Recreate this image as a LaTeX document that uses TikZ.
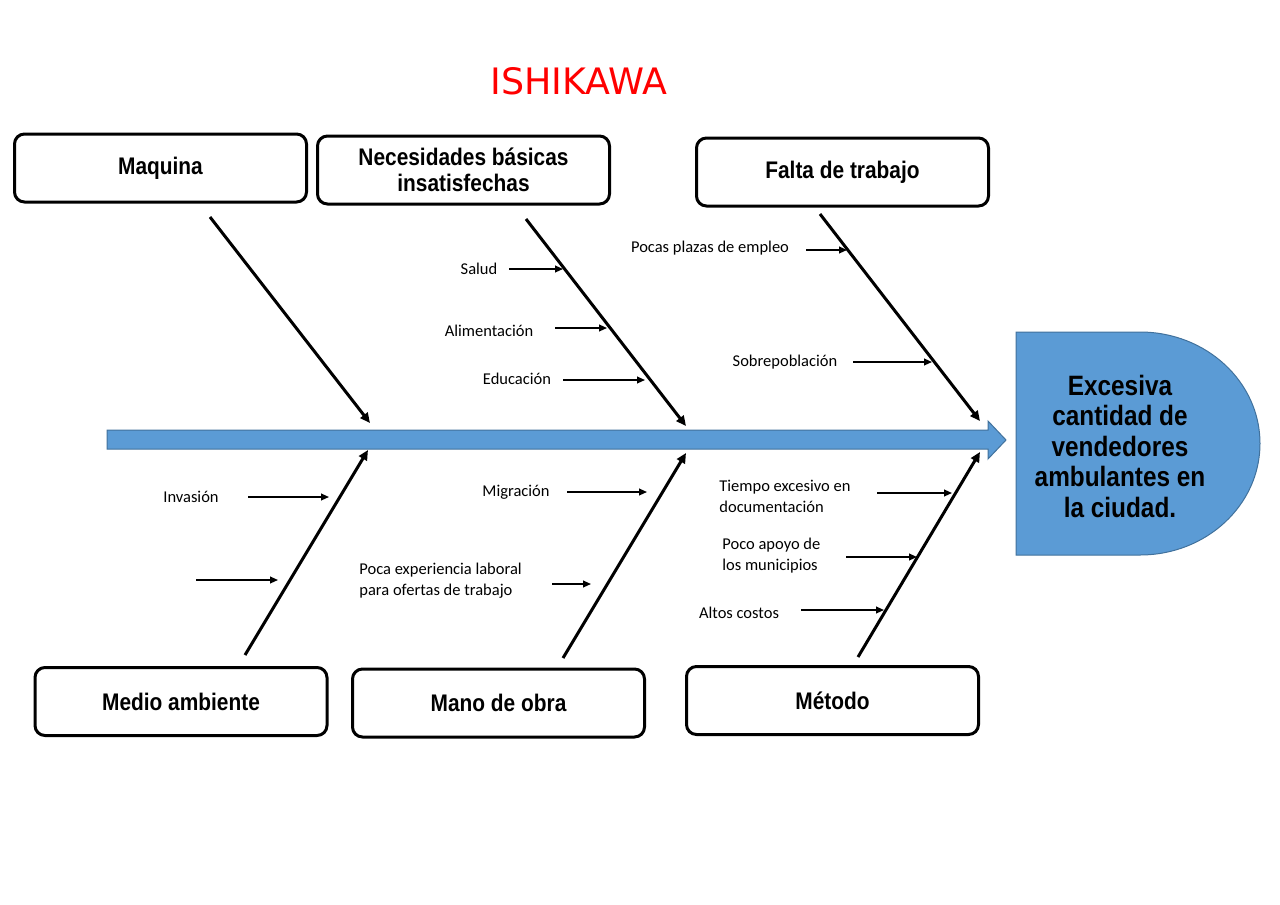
\documentclass[tikz,border=0pt]{standalone}
\usepackage{fontspec}
\setmainfont{Carlito}
\newfontfamily\boxfont{Liberation Sans}[FakeStretch=0.87]
\newfontfamily\titlefont{DejaVu Sans}
\usetikzlibrary{arrows.meta}
\definecolor{fishblue}{HTML}{5B9BD5}
\definecolor{fishedge}{HTML}{41719C}
\definecolor{titlered}{HTML}{FF0000}
\tikzset{
  catbox/.style={draw, line width=1.5pt, rounded corners=5pt, minimum width=146pt, minimum height=34pt,
    align=center, inner sep=0pt, font=\boxfont\bfseries\fontsize{12}{13}\selectfont},
  bone/.style={line width=1.5pt, -{Triangle[length=5pt,width=4.5pt]}},
  twig/.style={line width=0.8pt, -{Triangle[length=4pt,width=3.4pt]}},
  cause/.style={inner sep=0pt, font=\fontsize{8.25}{10.5}\selectfont},
  causel/.style={cause, anchor=west, align=left},
}
\begin{document}
\begin{tikzpicture}[x=0.5pt,y=-0.5pt]
\useasboundingbox (0,0) rectangle (1280,905);
% title
\node[text=titlered, font=\titlefont\fontsize{18.2}{20}\selectfont, inner sep=0pt] (title) at (579,81) {ISHIKAWA};
% spine
\path[fill=fishblue, draw=fishedge, line width=0.5pt]
  (107,430) -- (988,430) -- (988,421) -- (1006,440) -- (988,459) -- (988,449) -- (107,449) -- cycle;
% head
\path[fill=fishblue, draw=fishedge, line width=0.5pt]
  (1016,332) -- (1140,332) arc[start angle=90, end angle=-90, x radius=60pt, y radius=55.75pt] -- (1016,555) -- cycle;
\node[align=center, inner sep=0pt, font=\boxfont\bfseries\fontsize{14}{15.25}\selectfont] (head) at (1120,446)
  {Excesiva\\cantidad de\\vendedores\\ambulantes en\\la ciudad.};
% category boxes
\node[catbox] (maq) at (160.5,168) {Maquina};
\node[catbox] (nec) at (463.5,170) {Necesidades básicas\\insatisfechas};
\node[catbox] (fal) at (842.5,172) {Falta de trabajo};
\node[catbox] (med) at (181,701.5) {Medio ambiente};
\node[catbox] (man) at (498.5,703) {Mano de obra};
\node[catbox] (met) at (832.5,700.5) {Método};
% bone coordinates
\coordinate (maqS) at (210,217); \coordinate (maqT) at (370,423);
\coordinate (necS) at (526,219); \coordinate (necT) at (686,426);
\coordinate (falS) at (820,214); \coordinate (falT) at (980,421);
\coordinate (medS) at (245,655); \coordinate (medT) at (368,450);
\coordinate (manS) at (563,658); \coordinate (manT) at (686,453);
\coordinate (metS) at (858,657); \coordinate (metT) at (980,452);
\draw[bone] (maqS) -- (maqT);
\draw[bone] (necS) -- (necT);
\draw[bone] (falS) -- (falT);
\draw[bone] (medS) -- (medT);
\draw[bone] (manS) -- (manT);
\draw[bone] (metS) -- (metT);
% causes
\node[cause] (salud) at (479,269) {Salud};
\coordinate (saludA) at (509,269); \coordinate (saludB) at (563,269);
\draw[twig] (saludA) -- (saludB);
\node[cause] (alim) at (489,331) {Alimentación};
\coordinate (alimA) at (555,328); \coordinate (alimB) at (607,328);
\draw[twig] (alimA) -- (alimB);
\node[cause] (edu) at (517,379) {Educación};
\coordinate (eduA) at (563,380); \coordinate (eduB) at (645,380);
\draw[twig] (eduA) -- (eduB);
\node[cause] (pocas) at (710,248) {Pocas plazas de empleo};
\coordinate (pocasA) at (806,250); \coordinate (pocasB) at (847,250);
\draw[twig] (pocasA) -- (pocasB);
\node[cause] (sobre) at (785,362) {Sobrepoblación};
\coordinate (sobreA) at (853,362); \coordinate (sobreB) at (932,362);
\draw[twig] (sobreA) -- (sobreB);
\node[cause] (inv) at (191,497) {Invasión};
\coordinate (invA) at (248,497); \coordinate (invB) at (329,497);
\draw[twig] (invA) -- (invB);
\coordinate (blankA) at (196,580); \coordinate (blankB) at (278,580);
\draw[twig] (blankA) -- (blankB);
\node[cause] (mig) at (516,492) {Migración};
\coordinate (migA) at (567,492); \coordinate (migB) at (647,492);
\draw[twig] (migA) -- (migB);
\node[causel] (exp) at (359,580.5) {Poca experiencia laboral\\para ofertas de trabajo};
\coordinate (expA) at (552,584); \coordinate (expB) at (591,584);
\draw[twig] (expA) -- (expB);
\node[causel] (tiempo) at (719,496) {Tiempo excesivo en\\documentación};
\coordinate (tiempoA) at (877,493); \coordinate (tiempoB) at (952,493);
\draw[twig] (tiempoA) -- (tiempoB);
\node[causel] (apoyo) at (722,556) {Poco apoyo de\\los municipios};
\coordinate (apoyoA) at (846,557); \coordinate (apoyoB) at (917,557);
\draw[twig] (apoyoA) -- (apoyoB);
\node[cause] (altos) at (739,613) {Altos costos};
\coordinate (altosA) at (801,610); \coordinate (altosB) at (884,610);
\draw[twig] (altosA) -- (altosB);
\end{tikzpicture}
\end{document}
